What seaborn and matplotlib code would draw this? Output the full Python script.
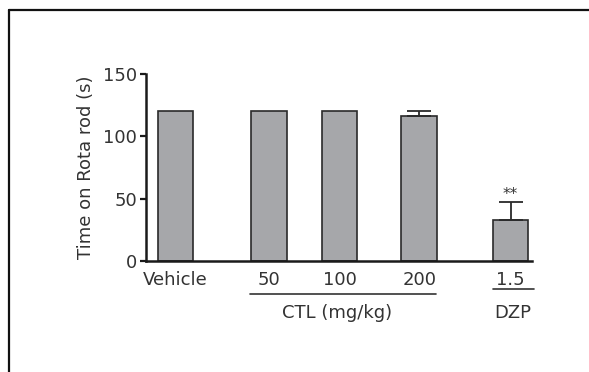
import matplotlib
matplotlib.use("Agg")
import matplotlib.pyplot as plt
from matplotlib.lines import Line2D
import numpy as np
import pandas as pd
import seaborn as sns

# Rota rod performance per treatment group
groups = ["Vehicle", "50", "100", "200", "1.5"]
mean_time = [120, 120, 120, 116, 33]
sem_time = [0, 0, 0, 4, 14]
significance = ["", "", "", "", "**"]

# horizontal placement of each group on the axis (layout only)
x_pos = [0.0, 2.67, 4.69, 6.96, 9.57]

sns.set_theme(style="ticks")
plt.rcParams["font.family"] = ["DejaVu Sans"]

FS = 13
TXT = "#333333"

W, H = 589, 372
fig = plt.figure(figsize=(W / 100, H / 100), dpi=100)
ax = fig.add_axes([146 / W, 1 - 261 / H, (532 - 146) / W, (261 - 74) / H])

df = pd.DataFrame({"x": x_pos, "time": mean_time})
sns.barplot(data=df, x="x", y="time", native_scale=True, width=0.5,
            color="#a6a7aa", saturation=1, errorbar=None,
            edgecolor="#2a2a2a", linewidth=1.2, ax=ax)

# upward-only SEM bars
for xp, m, s in zip(x_pos, mean_time, sem_time):
    if s > 0:
        ax.errorbar(xp, m, yerr=[[0], [s]], fmt="none", ecolor="#2a2a2a",
                    elinewidth=1.3, capsize=8.6, capthick=1.3, zorder=1)
for xp, m, s, lab in zip(x_pos, mean_time, sem_time, significance):
    if lab:
        ax.text(xp, m + s + 0.5, lab, ha="center", va="bottom",
                fontsize=11, color=TXT)

ax.set_ylim(0, 150)
ax.set_xlim(x_pos[0] - 0.843, x_pos[-1] + 0.614)
ax.set_yticks([0, 50, 100, 150])
ax.set_yticklabels(["0", "50", "100", "150"])
ax.set_xticks(x_pos)
ax.set_xticklabels(groups)
ax.set_xlabel("")
ax.set_ylabel("Time on Rota rod (s)", fontsize=FS, color=TXT, labelpad=6)

ax.tick_params(axis="y", length=4.5, width=1.6, color="#1a1a1a", pad=2,
               labelsize=FS, labelcolor=TXT)
ax.tick_params(axis="x", length=0, pad=7.5, labelsize=FS, labelcolor=TXT)
for side in ["top", "right"]:
    ax.spines[side].set_visible(False)
for side in ["left", "bottom"]:
    ax.spines[side].set_linewidth(1.8)
    ax.spines[side].set_color("#1a1a1a")

# group brackets under the dose labels
tr = ax.get_xaxis_transform()
ax.add_line(Line2D([x_pos[1] - 0.53, x_pos[3] + 0.47], [-0.176, -0.176],
                   transform=tr, clip_on=False, color=TXT, lw=1.2))
ax.text((x_pos[1] + x_pos[3]) / 2 - 0.2, -0.305, "CTL (mg/kg)", transform=tr,
        ha="center", va="baseline", fontsize=FS, color=TXT)
ax.add_line(Line2D([x_pos[4] - 0.5, x_pos[4] + 0.66], [-0.152, -0.152],
                   transform=tr, clip_on=False, color=TXT, lw=1.2))
ax.text(x_pos[4] + 0.07, -0.305, "DZP", transform=tr,
        ha="center", va="baseline", fontsize=FS, color=TXT)

# outer frame (left and top edges)
fig.add_artist(Line2D([9 / W, 9 / W], [0, 1 - 10 / H], color="#111111", lw=1.6))
fig.add_artist(Line2D([9 / W, 1], [1 - 10 / H, 1 - 10 / H], color="#111111", lw=1.6))

fig.savefig("out.png", dpi=100)
